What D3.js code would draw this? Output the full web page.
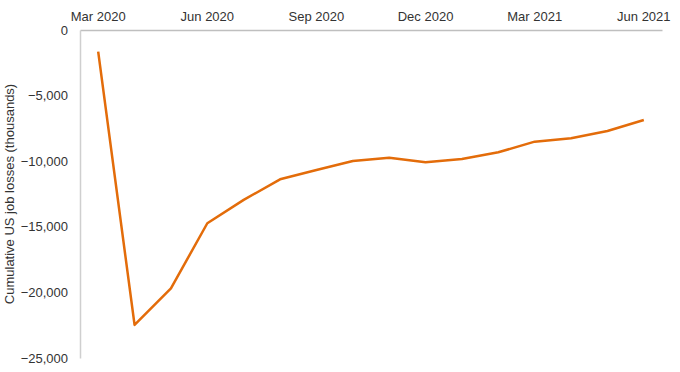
<!DOCTYPE html>
<html><head><meta charset="utf-8">
<script src="https://cdn.jsdelivr.net/npm/d3@7"></script>
<style>body{margin:0;background:#fff}svg{display:block}text{font-family:"Liberation Sans",Arial,sans-serif}</style>
</head><body>
<script>
const months = ["Mar 2020","Apr 2020","May 2020","Jun 2020","Jul 2020","Aug 2020","Sep 2020","Oct 2020","Nov 2020","Dec 2020","Jan 2021","Feb 2021","Mar 2021","Apr 2021","May 2021","Jun 2021"];
const losses = [-1650,-22480,-19690,-14730,-12950,-11380,-10670,-9980,-9730,-10080,-9830,-9320,-8510,-8250,-7700,-6860];
const xTickLabels = ["Mar 2020","Jun 2020","Sep 2020","Dec 2020","Mar 2021","Jun 2021"];
const yTicks = [0,-5000,-10000,-15000,-20000,-25000];
const yTitle = "Cumulative US job losses (thousands)";

const W=680,H=372, mLeft=80, mRight=662, mTop=30, mBottom=358;
const svg=d3.select("body").append("svg").attr("width",W).attr("height",H);
const x=d3.scaleBand().domain(months).range([mLeft,mRight]);
const y=d3.scaleLinear().domain([-25000,0]).range([mBottom,mTop]);

// top x axis
const xa=svg.append("g").attr("transform",`translate(0,${mTop})`)
  .call(d3.axisTop(x).tickValues(xTickLabels).tickSize(0).tickPadding(9));
xa.select(".domain").attr("stroke","#bfbfbf").attr("stroke-width",1.5);
xa.selectAll("text").attr("font-size",13).attr("fill","#333");

// y axis
const ya=svg.append("g").attr("transform",`translate(${mLeft},0)`)
  .call(d3.axisLeft(y).tickValues(yTicks).tickSize(0).tickPadding(12).tickFormat(d3.format(",")));
ya.select(".domain").attr("stroke","#cfcfcf").attr("stroke-width",1.5);
ya.selectAll("text").attr("font-size",13).attr("fill","#333");

svg.append("text").attr("transform",`translate(14,${(mTop+mBottom)/2}) rotate(-90)`)
  .attr("text-anchor","middle").attr("font-size",13).attr("fill","#333").text(yTitle);

const line=d3.line().x((d,i)=>x(months[i])+x.bandwidth()/2).y(d=>y(d));
svg.append("path").datum(losses).attr("d",line).attr("fill","none")
  .attr("stroke","#e36c0a").attr("stroke-width",2.5).attr("stroke-linejoin","round");
</script>
</body></html>
